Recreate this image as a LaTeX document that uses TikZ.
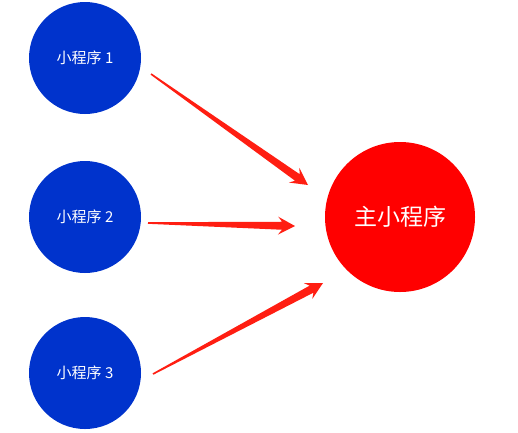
\documentclass[tikz,border=0pt]{standalone}
\usepackage{fontspec}
\newfontfamily\cjk{Noto Sans CJK SC}
\usepackage{tikz}
\usetikzlibrary{calc}

\definecolor{subblue}{RGB}{0,51,204}
\definecolor{mainred}{RGB}{255,0,0}
\definecolor{arrowred}{RGB}{255,30,18}

% 先細りの矢印 (始点, 先端)
\newcommand{\wedgearrow}[2]{%
  \coordinate (#1n) at ($(#2)!13pt!(#1)$);
  \coordinate (#1b) at ($(#2)!17pt!(#1)$);
  \fill[arrowred] ($(#1)!0.8pt!90:(#2)$) -- ($(#1n)!4pt!90:(#2)$)
    -- ($(#1b)!9pt!90:(#2)$) -- (#2) -- ($(#1b)!9pt!-90:(#2)$)
    -- ($(#1n)!4pt!-90:(#2)$) -- ($(#1)!0.8pt!-90:(#2)$) -- cycle;
}

\begin{document}
\begin{tikzpicture}[x=1pt, y=-1pt,
    sub/.style={circle, fill=subblue, minimum size=112pt, inner sep=0pt,
      text=white, font=\cjk\fontsize{15}{17}\selectfont},
    main/.style={circle, fill=mainred, minimum size=150pt, inner sep=0pt,
      text=white, font=\cjk\fontsize{23}{26}\selectfont}]
        \useasboundingbox (0,0) rectangle (518,432);

        % 小程序
        \node[sub] (p1) at (85,58) {小程序 1};
        \node[sub] (p2) at (85,217) {小程序 2};
        \node[sub] (p3) at (85,373) {小程序 3};

        % 主小程序
        \node[main] (m) at (400,217) {主小程序};

        % 矢印の端点
        \coordinate (s1) at (151,74);
        \coordinate (t1) at (308,185);
        \coordinate (s2) at (148,223);
        \coordinate (t2) at (295,226);
        \coordinate (s3) at (153,374);
        \coordinate (t3) at (323,283);

        \wedgearrow{s1}{t1}
        \wedgearrow{s2}{t2}
        \wedgearrow{s3}{t3}
    \end{tikzpicture}
\end{document}
